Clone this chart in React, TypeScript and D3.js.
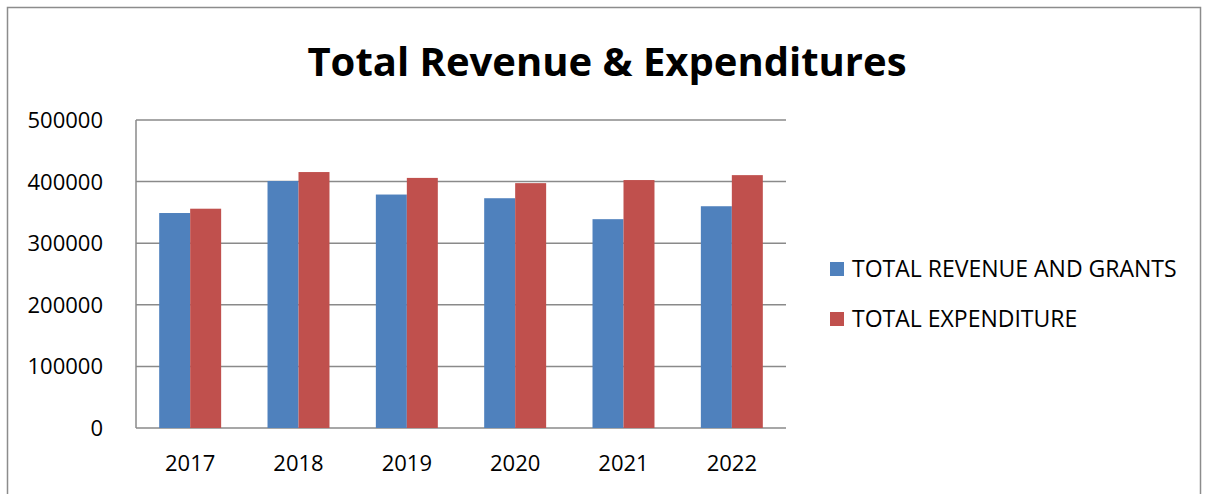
import * as d3 from "d3";

const YEARS = ["2017", "2018", "2019", "2020", "2021", "2022"];
const SERIES_NAMES = ["TOTAL REVENUE AND GRANTS", "TOTAL EXPENDITURE"];
const REVENUE = [349000, 401000, 379000, 373000, 339000, 360000];
const EXPENDITURE = [356000, 415500, 406000, 397500, 402500, 410500];
const Y_TICKS = [0, 100000, 200000, 300000, 400000, 500000];
const COLORS = ["#4F81BD", "#C0504D"];

const WIDTH = 1205;
const HEIGHT = 494;
const PLOT = { left: 136, right: 786, top: 120, bottom: 428 };
const FONT = "'Open Sans', 'Noto Sans', sans-serif";

export default function App() {
  const x = d3
    .scaleBand()
    .domain(YEARS)
    .range([PLOT.left, PLOT.right])
    .paddingInner(0.428)
    .paddingOuter(0.214);
  const sub = d3.scaleBand().domain(["0", "1"]).range([0, x.bandwidth()]);
  const y = d3.scaleLinear().domain([0, 500000]).range([PLOT.bottom, PLOT.top]);

  const series = [REVENUE, EXPENDITURE];

  return (
    <div style={{ position: "absolute", left: 0, top: 0 }}>
      <svg width={WIDTH} height={HEIGHT} style={{ display: "block" }}>
        <rect x={0} y={0} width={WIDTH} height={HEIGHT} fill="#fff" />
        <rect
          x={7.5}
          y={7.5}
          width={1193}
          height={520}
          fill="none"
          stroke="#8c8c8c"
          strokeWidth={1.5}
        />

        <text
          x={607}
          y={76}
          textAnchor="middle"
          fontFamily={FONT}
          fontWeight={700}
          fontSize={40}
          fill="#000"
        >
          Total Revenue &amp; Expenditures
        </text>

        {/* grid + y labels */}
        {Y_TICKS.map((t) => (
          <g key={t}>
            <line
              x1={PLOT.left}
              x2={PLOT.right}
              y1={y(t)}
              y2={y(t)}
              stroke="#8a8a8a"
              strokeWidth={1.5}
            />
            <text
              x={103}
              y={y(t)}
              dy="0.36em"
              textAnchor="end"
              fontFamily={FONT}
              fontSize={22}
              fill="#000"
            >
              {t}
            </text>
          </g>
        ))}
        <line
          x1={PLOT.left}
          x2={PLOT.left}
          y1={PLOT.top}
          y2={PLOT.bottom}
          stroke="#8a8a8a"
          strokeWidth={1.5}
        />

        {/* bars */}
        {YEARS.map((yr, i) => (
          <g key={yr} transform={`translate(${x(yr)},0)`}>
            {series.map((vals, s) => (
              <rect
                key={s}
                x={sub(String(s))}
                y={y(vals[i])}
                width={sub.bandwidth()}
                height={y(0) - y(vals[i])}
                fill={COLORS[s]}
              />
            ))}
            <text
              x={x.bandwidth() / 2}
              y={471}
              textAnchor="middle"
              fontFamily={FONT}
              fontSize={22}
              fill="#000"
            >
              {yr}
            </text>
          </g>
        ))}

        {/* legend */}
        {SERIES_NAMES.map((name, s) => (
          <g key={name} transform={`translate(830,${262 + s * 50})`}>
            <rect x={0} y={0} width={14} height={14} fill={COLORS[s]} />
            <text
              x={22}
              y={7}
              dy="0.36em"
              fontFamily={FONT}
              fontSize={23}
              fill="#000"
            >
              {name}
            </text>
          </g>
        ))}
      </svg>
    </div>
  );
}
